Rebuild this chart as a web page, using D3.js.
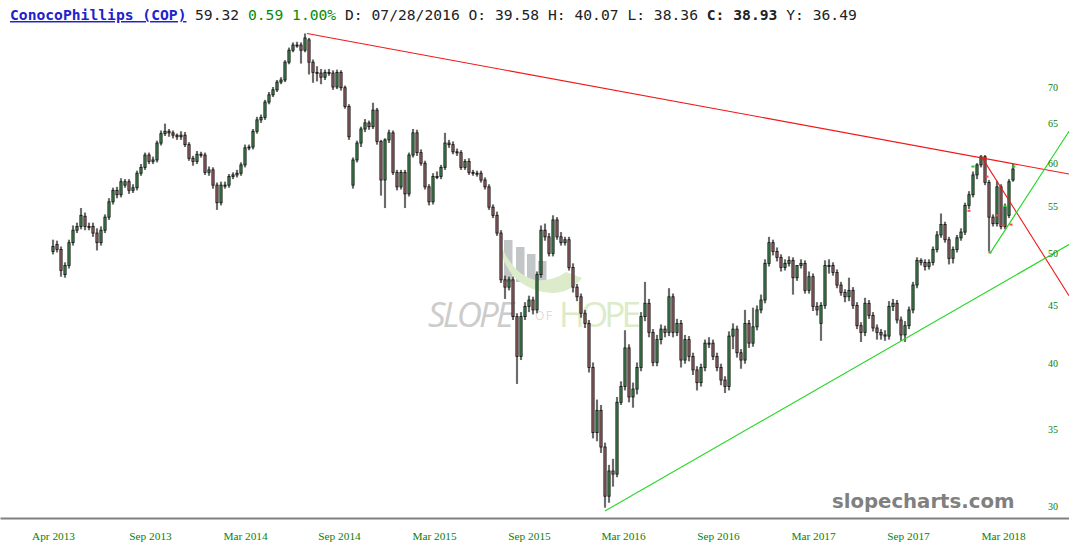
<!DOCTYPE html>
<html>
<head>
<meta charset="utf-8">
<script src="https://cdn.jsdelivr.net/npm/d3@7"></script>
<style>
html, body { margin: 0; padding: 0; background: #fff; overflow: hidden; }
svg { display: block; }
</style>
</head>
<body>
<svg id="chart" width="1069" height="558"></svg>
<script>
var opens = [
50.2,50.9,50.4,47.9,48.8,51.1,52.4,52.8,53.9,52.8,
52.8,52.1,51.1,52.4,53.8,55.5,56.8,56.3,57.4,57.8,
56.8,57.1,58.8,59.5,61.0,60.2,60.4,62.5,63.7,64.0,
63.8,63.5,63.3,63.5,62.3,60.6,60.2,61.1,61.0,58.9,
59.2,57.4,55.4,57.4,57.4,58.4,58.6,58.8,59.8,61.9,
62.0,64.0,65.5,65.8,67.9,68.9,69.6,70.7,71.0,73.6,
75.4,76.2,76.2,75.4,77.0,73.6,72.1,72.0,71.4,72.1,
72.0,70.0,72.1,69.9,67.3,57.4,60.4,62.5,64.3,65.1,
64.6,66.8,62.7,58.0,62.9,63.8,58.9,57.2,58.9,56.4,
61.0,63.8,61.3,60.0,57.2,55.5,58.4,58.4,59.5,62.5,
62.3,61.4,61.3,59.5,60.2,58.9,58.8,58.8,58.0,57.2,
54.9,54.0,52.1,47.4,46.7,47.4,44.0,40.6,44.0,44.9,
45.5,44.6,47.9,52.4,51.7,50.0,53.5,51.7,51.1,51.4,
48.6,46.7,45.8,44.3,43.4,39.7,34.8,36.4,33.8,30.6,
32.2,32.0,37.0,38.2,41.3,37.4,38.0,39.7,44.0,45.2,
42.6,40.1,42.0,42.9,42.6,45.8,42.6,43.4,40.3,42.0,
40.6,39.5,38.5,39.7,41.7,41.7,40.6,39.7,38.7,38.2,
42.3,42.9,40.9,40.3,43.4,41.7,43.1,44.6,45.5,49.0,
51.1,50.2,49.6,48.6,49.0,49.3,47.6,48.8,49.0,46.4,
47.7,44.9,43.4,45.0,48.8,48.8,48.1,46.9,46.2,45.8,
46.4,45.0,43.2,42.6,45.2,44.1,43.0,42.6,42.4,42.3,
44.9,45.2,43.7,42.4,43.2,44.6,46.9,49.3,49.1,48.7,
49.1,50.4,51.9,53.0,51.4,49.5,50.4,51.6,52.2,55.1,
56.3,58.6,59.8,60.8,57.7,53.8,53.1,57.2,52.8,54.0,
58.0];
var highs = [
51.4,51.3,50.7,49.1,51.4,52.9,53.2,54.8,54.3,53.2,
53.2,52.6,52.8,54.1,55.9,57.1,57.2,58.2,58.1,58.1,
57.5,59.1,59.9,61.3,61.3,60.8,62.8,64.1,65.0,64.3,
64.1,63.7,64.0,63.9,62.6,60.9,61.5,61.4,61.3,59.6,
59.5,57.7,57.8,57.8,58.7,58.9,59.2,60.1,62.3,62.3,
64.3,65.9,66.2,68.2,69.3,70.0,71.0,71.4,73.9,75.8,
76.6,76.7,76.6,78.0,77.3,74.0,73.0,72.6,72.5,72.6,
72.4,72.5,72.4,70.2,67.6,60.7,62.8,64.6,65.6,65.4,
67.8,67.1,62.9,63.1,64.2,64.1,59.2,59.2,59.2,61.3,
64.3,64.2,61.7,60.3,57.5,58.8,59.0,59.8,63.8,62.9,
62.7,61.8,61.6,60.5,60.6,59.2,59.1,59.1,58.3,57.5,
55.2,54.4,52.4,47.8,47.7,47.7,44.3,44.4,45.3,45.9,
45.8,48.2,52.9,53.1,52.1,54.0,53.8,52.2,51.7,51.7,
49.0,47.0,46.1,44.6,43.7,40.1,37.2,36.8,34.1,32.6,
33.0,37.4,38.6,42.8,41.6,38.5,40.1,44.4,47.2,45.6,
42.9,42.4,43.3,43.2,46.6,46.1,43.8,43.7,42.4,42.3,
40.9,39.8,40.0,42.0,42.2,42.0,40.9,40.0,39.0,42.7,
43.4,43.2,41.2,44.6,43.7,44.8,45.0,46.0,49.4,51.7,
51.4,50.6,49.9,49.4,49.7,49.6,48.3,49.4,49.3,48.2,
48.0,45.3,45.3,49.3,49.4,49.1,48.4,47.2,46.5,47.6,
46.7,45.3,43.5,45.7,45.5,44.4,43.3,42.9,42.8,45.4,
45.6,45.5,44.0,43.6,44.9,47.2,49.6,49.5,49.4,49.4,
50.7,52.3,54.2,53.3,51.7,50.7,51.9,52.6,55.4,56.7,
59.0,60.0,61.0,61.0,58.0,54.1,57.9,57.5,55.3,58.1,
59.9];
var lows = [
49.9,50.1,47.7,47.6,48.5,50.8,52.1,52.5,52.4,52.4,
51.7,50.3,50.8,52.1,53.5,55.2,55.9,56.0,57.1,56.4,
56.5,56.8,58.5,59.2,59.9,59.9,60.1,62.2,63.4,63.3,
63.1,62.9,62.9,62.0,60.3,59.7,59.9,60.7,58.6,58.5,
57.0,54.6,55.1,57.0,57.1,58.1,58.3,58.5,59.5,61.6,
61.7,63.7,65.1,65.5,67.6,68.6,69.3,70.4,70.7,73.3,
75.1,75.8,73.4,75.1,71.8,70.6,70.8,70.4,71.0,71.6,
69.6,69.7,69.5,67.0,62.9,57.0,60.1,62.0,63.9,64.2,
64.3,62.3,56.2,54.8,62.5,58.6,56.8,56.9,54.8,56.1,
60.7,60.9,59.7,56.9,55.1,55.2,58.1,58.1,59.2,61.9,
61.1,60.9,59.2,59.2,58.6,58.5,58.4,57.7,56.9,54.6,
53.7,51.8,47.1,45.6,46.4,43.7,38.4,40.3,43.7,44.4,
44.2,44.3,47.6,51.3,49.7,49.7,51.4,50.8,50.8,48.3,
46.2,45.4,43.9,43.0,39.3,34.4,34.2,33.4,29.9,30.2,
31.2,31.8,36.8,37.9,37.0,36.6,37.6,39.4,43.6,42.2,
39.8,39.8,41.6,42.2,42.3,42.2,42.3,39.7,40.0,40.2,
39.1,37.9,38.2,39.4,41.3,40.3,39.4,38.3,37.7,37.9,
41.2,40.5,39.6,40.0,41.3,41.4,42.8,44.3,45.2,48.7,
49.8,49.2,48.2,48.3,48.7,46.0,47.3,48.5,46.1,46.1,
44.5,44.1,41.9,44.7,48.0,47.8,46.6,45.9,45.3,45.4,
44.7,42.9,41.8,42.3,43.8,42.7,42.0,42.0,41.9,42.0,
44.5,43.4,41.9,41.8,42.9,44.3,46.6,48.8,48.3,48.4,
48.8,50.1,51.6,51.1,48.9,49.0,50.1,51.3,51.9,54.7,
56.0,58.1,59.5,57.4,50.2,52.8,52.8,52.5,52.5,53.7,
57.8];
var closes = [
50.7,50.4,48.3,48.8,51.1,52.4,52.8,54.0,52.8,52.8,
52.1,51.1,52.4,53.8,55.5,56.8,56.3,57.8,57.8,56.8,
57.1,58.8,59.5,61.0,60.2,60.4,62.5,63.7,64.0,63.8,
63.5,63.3,63.5,62.3,60.6,60.2,61.1,61.0,58.9,59.2,
57.4,55.4,57.4,57.4,58.4,58.6,58.8,59.8,61.9,62.0,
64.0,65.5,65.8,67.9,68.9,69.6,70.7,71.0,73.6,75.4,
76.2,76.2,75.4,77.3,73.6,72.1,72.0,71.4,72.1,72.0,
70.0,72.1,69.9,67.3,63.3,60.4,62.5,64.3,65.1,64.6,
66.8,62.7,58.0,62.9,63.8,58.9,57.2,58.9,56.4,61.0,
63.8,61.3,60.0,57.2,55.5,58.4,58.4,59.5,62.5,62.3,
61.4,61.3,59.5,60.2,58.9,58.8,58.8,58.0,57.2,54.9,
54.0,52.1,47.4,46.7,47.4,44.0,40.6,44.0,44.9,45.5,
44.6,47.9,52.4,51.7,50.0,53.5,51.7,51.1,51.4,48.6,
46.7,45.8,44.3,43.4,39.7,34.8,36.4,33.8,30.6,32.2,
32.0,37.0,38.2,41.3,37.4,38.0,39.7,44.0,45.2,42.6,
40.1,42.0,42.9,42.6,45.8,42.6,43.4,40.3,42.0,40.6,
39.5,38.5,39.7,41.7,41.7,40.6,39.7,38.7,38.2,42.3,
42.9,40.9,40.3,43.4,41.7,43.1,44.6,45.5,49.0,51.1,
50.2,49.6,48.6,49.0,49.3,47.6,48.8,49.0,46.4,47.7,
44.9,44.6,45.0,48.8,48.8,48.1,46.9,46.2,45.8,46.4,
45.0,43.2,42.6,45.2,44.1,43.0,42.6,42.4,42.3,44.9,
45.2,43.7,42.4,43.2,44.6,46.9,49.3,49.1,48.7,49.1,
50.4,51.9,53.0,51.4,49.5,50.4,51.6,52.2,55.1,56.3,
58.6,59.8,60.8,57.7,53.8,53.1,57.2,52.8,54.9,57.8,
59.3];

var monthLabels = ["Apr 2013","Sep 2013","Mar 2014","Sep 2014","Mar 2015","Sep 2015","Mar 2016","Sep 2016","Mar 2017","Sep 2017","Mar 2018"];
var monthBars = [0,24.25,48,71.5,95.25,119,142.5,166.25,190,213.75,237.5];
var priceTicks = [30,35,40,45,50,55,60,65,70];

// trend lines, as [bar, price] pairs
var redTrends = [
    [[63.5,78.0],[254,58.7]],
    [[232,60.9],[254,45.9]]
];
var greenTrends = [
    [[138,29.7],[254,50.9]],
    [[234.25,50.0],[254,64.0]]
];
// the small pivot ticks on the last swing
var pivotBars = [229,230,233.5,234.25,236,237.5,238,239.5,240.2];
var pivotPrices = [54.5,59.6,58.4,50.1,54.0,52.9,55.0,53.0,59.6];
var pivotColors = ["#f44","#2c2","#f44","#f44","#f44","#f44","#2c2","#f44","#2c2"];

var headerParts = [
    ["59.32 ","#222",400],["0.59 1.00% ","#0a8a0a",400],["D: 07/28/2016 O: 39.58 H: 40.07 L: 38.36 ","#222",400],
    ["C: 38.93 ","#222",700],["Y: 36.49","#222",400]
];

var svg = d3.select("#chart");
var serif = "'Liberation Serif', serif";
var mono = "'DejaVu Sans Mono', monospace";

var x = d3.scaleLinear().domain([-13.25,254]).range([0,1069]);
var y = d3.scaleLog().domain([30,70]).range([506,87]);

// watermark first, everything else goes on top
var wm = svg.append("g");
wm.selectAll("rect").data([[504,240],[516,247],[527,254],[538,261]]).enter().append("rect")
    .attr("x", function(d) { return d[0]; })
    .attr("y", function(d) { return d[1]; })
    .attr("width", 8.5)
    .attr("height", function(d) { return 282 - d[1]; })
    .attr("fill", "#c2c6c7");
wm.append("path")
    .attr("d", "M500,251 Q512,290 552,293 Q570,293 582,278 L566,272 Q552,282 535,280 Q516,276 503,250 Z")
    .attr("fill", "#dcebc9");
wm.append("text").attr("x", 428).attr("y", 327)
    .style("font", "italic 400 35px 'Open Sans', sans-serif").attr("fill", "#cccccc").attr("textLength", 86).text("SLOPE");
wm.append("text").attr("x", 535).attr("y", 320)
    .style("font", "400 12px 'Open Sans', sans-serif").attr("fill", "#dcdcdc").attr("textLength", 17).text("OF");
wm.append("text").attr("x", 559).attr("y", 327)
    .style("font", "400 35px 'Open Sans', sans-serif").attr("fill", "#dcebc9").attr("textLength", 82).text("HOPE");

var bars = svg.append("g").selectAll("g").data(closes).enter().append("g");
bars.append("line")
    .attr("x1", function(d, i) { return x(i); })
    .attr("x2", function(d, i) { return x(i); })
    .attr("y1", function(d, i) { return y(highs[i]); })
    .attr("y2", function(d, i) { return y(lows[i]); })
    .attr("stroke", "#999").attr("stroke-width", 2.4).attr("stroke-opacity", 0.55);
bars.append("line")
    .attr("x1", function(d, i) { return x(i); })
    .attr("x2", function(d, i) { return x(i); })
    .attr("y1", function(d, i) { return y(highs[i]); })
    .attr("y2", function(d, i) { return y(lows[i]); })
    .attr("stroke", "#111").attr("stroke-width", 1);
bars.append("rect")
    .attr("x", function(d, i) { return x(i) - 1.1; })
    .attr("y", function(d, i) { return y(Math.max(opens[i], closes[i])); })
    .attr("width", 2.2)
    .attr("height", function(d, i) { return Math.max(1, Math.abs(y(opens[i]) - y(closes[i]))); })
    .attr("fill", function(d, i) { return closes[i] >= opens[i] ? "#3f8a50" : "#9a6468"; })
    .attr("stroke", "#111").attr("stroke-width", 0.8);

svg.append("g").selectAll("rect").data(pivotBars).enter().append("rect")
    .attr("x", function(d) { return x(d) - 1.5; })
    .attr("y", function(d, i) { return y(pivotPrices[i]) - 1; })
    .attr("width", 3).attr("height", 2)
    .attr("fill", function(d, i) { return pivotColors[i]; });

var trend = d3.line().x(function(d) { return x(d[0]); }).y(function(d) { return y(d[1]); });
svg.append("g").selectAll("path").data(redTrends).enter().append("path")
    .attr("d", trend).attr("fill", "none").attr("stroke", "#f01818").attr("stroke-width", 1.1);
svg.append("g").selectAll("path").data(greenTrends).enter().append("path")
    .attr("d", trend).attr("fill", "none").attr("stroke", "#22d622").attr("stroke-width", 1.1);

var xAxis = d3.axisBottom(x).tickValues(monthBars).tickSize(0).tickPadding(14)
    .tickFormat(function(d, i) { return monthLabels[i]; });
var gx = svg.append("g").attr("transform", "translate(0,518)").call(xAxis);
gx.select(".domain").attr("stroke", "#808080").attr("stroke-width", 2);
gx.selectAll("text").style("font", "11.3px " + serif).attr("fill", "#0a800a");

var yAxis = d3.axisRight(y).tickValues(priceTicks).tickSize(0).tickPadding(0)
    .tickFormat(d3.format("d"));
var gy = svg.append("g").attr("transform", "translate(1048,0)").call(yAxis);
gy.select(".domain").remove();
gy.selectAll("text").style("font", "10px " + serif).attr("fill", "#0a800a");

svg.append("text").attr("x", 832).attr("y", 508)
    .style("font", "bold 19.7px 'DejaVu Sans', sans-serif").attr("fill", "#808080").text("slopecharts.com");

var header = svg.append("text").attr("x", 10).attr("y", 20).style("font", "14.67px " + mono).style("white-space", "pre");
header.append("tspan").attr("font-weight", 700).attr("fill", "#2222cc").attr("text-decoration", "underline")
    .text("ConocoPhillips (COP)");
headerParts.forEach(function(p, i) {
    var t = header.append("tspan").attr("fill", p[1]).attr("font-weight", p[2]).text(p[0]);
    if (i == 0) t.attr("x", 195);
});
</script>
</body>
</html>
